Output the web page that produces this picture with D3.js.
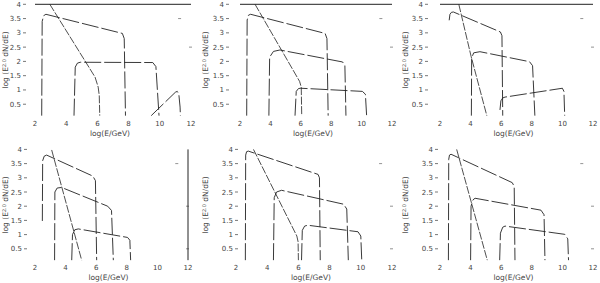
<!DOCTYPE html>
<html>
<head>
<meta charset="utf-8">
<script src="https://cdn.jsdelivr.net/npm/d3@7"></script>
<style>
  body { margin: 0; background: #fff; }
  svg { display: block; font-family: "DejaVu Sans", sans-serif; }
  .tick-label { font-size: 7px; fill: #444; }
  .axis-title { font-size: 7.5px; fill: #444; }
  .curve { fill: none; stroke: #222; stroke-width: 0.9; stroke-dasharray: 17,3; }
  .diag { fill: none; stroke: #222; stroke-width: 0.8; stroke-dasharray: 8,1.5; }
  .solid { fill: none; stroke: #222; stroke-width: 1; }
</style>
</head>
<body>
<div id="chart"></div>
<script>
// tick values shared by all panels
const xTicks = [2, 4, 6, 8, 10, 12];
const yTicks = [0.5, 1, 1.5, 2, 2.5, 3, 3.5, 4];

// panel 1 (top left)
const p1Curves = [
  [[2.43, 0.1], [2.46, 3.4], [2.55, 3.6], [2.7, 3.65], [7.6, 2.98], [7.72, 2.8], [7.8, 0.1]],
  [[4.5, 0.1], [4.58, 1.8], [4.72, 1.94], [4.9, 1.97], [9.55, 1.96], [9.75, 1.82], [9.95, 0.1]],
  [[9.45, 0.1], [11.0, 0.92], [11.12, 0.95], [11.22, 0.85], [11.3, 0.4], [11.32, 0.1]]
];
const p1Diag = [[2.95, 4.0], [5.85, 1.45], [6.05, 1.1], [6.12, 0.8], [6.15, 0.1]];

// panel 2 (top middle)
const p2Curves = [
  [[2.44, 0.1], [2.47, 3.45], [2.56, 3.62], [2.7, 3.65], [7.6, 2.98], [7.72, 2.8], [7.8, 0.1]],
  [[3.9, 0.1], [3.95, 2.15], [4.2, 2.35], [4.63, 2.4], [8.75, 1.98], [8.9, 1.85], [8.97, 0.1]],
  [[5.62, 0.1], [5.7, 0.95], [5.85, 1.05], [6.0, 1.06], [10.05, 0.95], [10.25, 0.85], [10.33, 0.1]]
];
const p2Diag = [[2.99, 4.0], [5.92, 1.3], [6.03, 1.1], [6.06, 0.1]];

// panel 3 (top right)
const p3Curves = [
  [[2.6, 3.44], [2.65, 3.65], [2.75, 3.72], [2.88, 3.73], [5.95, 3.03], [6.05, 2.9], [6.1, 0.1]],
  [[4.05, 0.1], [4.07, 2.12], [4.2, 2.3], [4.61, 2.34], [7.85, 1.99], [8.05, 1.85], [8.2, 0.1]],
  [[5.92, 0.3], [5.98, 0.62], [6.1, 0.72], [6.25, 0.75], [10.0, 1.06], [10.1, 0.95], [10.15, 0.1]]
];
const p3Diag = [[3.23, 4.0], [4.04, 2.16], [5.06, 0.1]];

// panel 4 (bottom left)
const p4Curves = [
  [[2.48, 1.48], [2.5, 3.6], [2.6, 3.76], [2.76, 3.8], [5.78, 3.06], [5.95, 2.9], [6.03, 0.1]],
  [[3.28, 0.1], [3.3, 2.5], [3.45, 2.64], [3.74, 2.66], [6.75, 2.0], [7.0, 1.85], [7.12, 0.1]],
  [[4.4, 0.1], [4.45, 1.0], [4.6, 1.17], [4.83, 1.2], [8.05, 0.9], [8.2, 0.8], [8.25, 0.1]]
];
const p4Diag = [[3.09, 3.98], [5.05, 0.1]];

// panel 5 (bottom middle)
const p5Curves = [
  [[2.6, 0.1], [2.62, 3.8], [2.68, 3.92], [2.79, 3.94], [7.26, 3.12], [7.35, 3.0], [7.4, 0.1]],
  [[4.4, 0.1], [4.45, 2.3], [4.6, 2.5], [4.92, 2.56], [8.9, 2.07], [9.1, 1.9], [9.2, 0.1]],
  [[6.2, 0.1], [6.25, 1.15], [6.4, 1.3], [6.6, 1.33], [9.82, 1.1], [10.0, 0.95], [10.06, 0.1]]
];
const p5Diag = [[3.12, 4.0], [5.9, 0.95], [5.98, 0.75], [6.0, 0.1]];

// panel 6 (bottom right)
const p6Curves = [
  [[2.55, 0.1], [2.57, 3.65], [2.62, 3.8], [2.72, 3.83], [6.72, 2.83], [6.85, 2.7], [6.9, 0.1]],
  [[4.0, 0.1], [4.03, 2.0], [4.15, 2.22], [4.29, 2.28], [8.6, 1.86], [8.8, 1.7], [8.86, 0.1]],
  [[5.9, 0.1], [5.95, 1.05], [6.1, 1.26], [6.25, 1.3], [10.15, 1.01], [10.35, 0.85], [10.4, 0.1]]
];
const p6Diag = [[3.09, 4.0], [5.09, 0.1]];

// layout of each panel (absolute pixel positions)
const panels = [
  { curves: p1Curves, diag: p1Diag, x0: 35,  x1: 191, yBase: 118.5, yTop: 4.3,   axisX: 23,  labelY: 60,  topLine: true },
  { curves: p2Curves, diag: p2Diag, x0: 240, x1: 392, yBase: 118.5, yTop: 4.3,   axisX: 226, labelY: 60,  topLine: true },
  { curves: p3Curves, diag: p3Diag, x0: 440, x1: 593, yBase: 118.5, yTop: 4.3,   axisX: 425, labelY: 60,  topLine: true },
  { curves: p4Curves, diag: p4Diag, x0: 35,  x1: 188, yBase: 263,   yTop: 149.4, axisX: 24,  labelY: 205, rightLine: true },
  { curves: p5Curves, diag: p5Diag, x0: 236, x1: 392, yBase: 263,   yTop: 149.4, axisX: 235, labelY: 205 },
  { curves: p6Curves, diag: p6Diag, x0: 440, x1: 593, yBase: 263,   yTop: 149.4, axisX: 435, labelY: 205 }
];
const yLabelX = [8, 208, 408, 8, 208, 408];

const svg = d3.select("#chart").append("svg")
    .attr("width", 600)
    .attr("height", 283);

panels.forEach((p, i) => {
  const x = d3.scaleLinear().domain([2, 12]).range([p.x0, p.x1]);
  const y = d3.scaleLinear().domain([0, 4]).range([p.yBase, p.yTop]);
  const line = d3.line().x(d => x(d[0])).y(d => y(d[1]));
  const g = svg.append("g");

  // y ticks: label, then short inward tick
  yTicks.forEach(t => {
    g.append("text")
        .attr("class", "tick-label")
        .attr("x", p.axisX - 2)
        .attr("y", y(t) + 2.5)
        .attr("text-anchor", "end")
        .text(t);
    g.append("line")
        .attr("x1", p.axisX).attr("x2", p.axisX + 3)
        .attr("y1", y(t)).attr("y2", y(t))
        .attr("stroke", "#555").attr("stroke-width", 0.8);
  });

  // mirror ticks on the right
  const rightTicks = p.yBase > 200 ? [3.5, 2, 0.5] : [3.5, 2.5];
  rightTicks.forEach((t, k) => {
    const rx = (k === 0) ? x(11.3) : x(12);
    g.append("line")
        .attr("x1", rx - 2).attr("x2", rx + 1)
        .attr("y1", y(t)).attr("y2", y(t))
        .attr("stroke", "#777").attr("stroke-width", 0.8);
  });

  // x tick labels
  xTicks.forEach(t => {
    g.append("text")
        .attr("class", "tick-label")
        .attr("x", x(t))
        .attr("y", p.yBase + 7)
        .attr("text-anchor", "middle")
        .text(t);
  });

  // axis titles
  g.append("text")
      .attr("class", "axis-title")
      .attr("x", (p.x0 + p.x1) / 2 - 3)
      .attr("y", p.yBase + 17)
      .attr("text-anchor", "middle")
      .text("log(E/GeV)");

  const yl = g.append("text")
      .attr("class", "axis-title")
      .attr("transform", `translate(${yLabelX[i]},${p.labelY}) rotate(-90)`)
      .attr("text-anchor", "middle");
  yl.append("tspan").text("log (E");
  yl.append("tspan").attr("dy", -2.5).attr("font-size", "5px").text("2.0");
  yl.append("tspan").attr("dy", 2.5).text(" dN/dE)");

  if (p.topLine) {
    g.append("line").attr("class", "solid")
        .attr("x1", x(2)).attr("x2", x(12))
        .attr("y1", y(4)).attr("y2", y(4));
  }
  if (p.rightLine) {
    g.append("line").attr("class", "solid")
        .attr("x1", x(12)).attr("x2", x(12))
        .attr("y1", y(4)).attr("y2", y(0.1));
  }

  g.selectAll(".curve")
      .data(p.curves)
      .enter().append("path")
      .attr("class", "curve")
      .attr("d", line);

  g.append("path")
      .attr("class", "diag")
      .attr("d", line(p.diag));
});
</script>
</body>
</html>
